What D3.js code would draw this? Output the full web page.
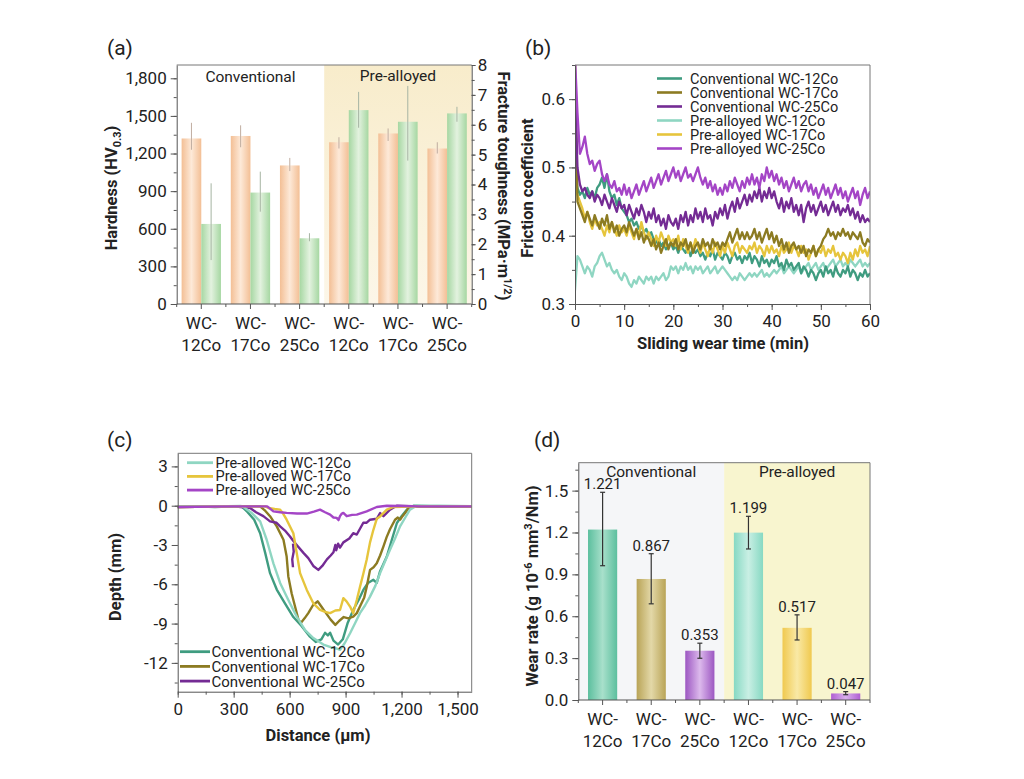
<!DOCTYPE html>
<html>
<head>
<meta charset="utf-8">
<script src="https://cdn.jsdelivr.net/npm/d3@7"></script>
<style>
  body { margin: 0; background: #fff; }
  svg text { font-family: Roboto, "Noto Sans", sans-serif; fill: #222; }
  .tick text { font-size: 17px; }
  .axis path, .axis line { stroke: #555; }
  .frame { stroke: #777; fill: none; }
  .title { font-weight: 700; font-size: 16.5px; }
  .plabel { font-size: 21px; }
</style>
</head>
<body>
<svg id="fig" width="1024" height="779"></svg>
<script>
// ---------- data ----------
const groupTop = ["WC-", "WC-", "WC-", "WC-", "WC-", "WC-"];
const groupBottom = ["12Co", "17Co", "25Co", "12Co", "17Co", "25Co"];

// (a) hardness (HV0.3) and fracture toughness (MPa m^1/2)
const hardness = [1320, 1340, 1105, 1290, 1360, 1240];
const hardnessHi = [1445, 1425, 1165, 1330, 1400, 1290];
const hardnessLo = [1230, 1250, 1060, 1240, 1300, 1200];
const toughness = [2.68, 3.73, 2.2, 6.49, 6.1, 6.38];
const toughnessHi = [4.04, 4.43, 2.37, 7.1, 7.3, 6.6];
const toughnessLo = [1.47, 3.09, 2.1, 5.9, 4.8, 6.1];

// (b) friction coefficient, one sample every 0.5 min from 0 to 60 min
const sampleStep = 0.5;
const fricConv12 = [
  0.50,0.47,0.46,0.465,0.455,0.47,0.46,0.465,0.455,0.47,
  0.475,0.485,0.47,0.49,0.465,0.455,0.46,0.445,0.455,0.44,
  0.435,0.43,0.42,0.425,0.415,0.42,0.41,0.415,0.405,0.41,
  0.40,0.405,0.395,0.39,0.395,0.385,0.39,0.38,0.385,0.39,
  0.38,0.385,0.375,0.385,0.38,0.375,0.385,0.37,0.38,0.375,
  0.38,0.37,0.375,0.365,0.375,0.37,0.38,0.365,0.375,0.37,
  0.365,0.375,0.37,0.36,0.37,0.375,0.365,0.37,0.36,0.37,
  0.365,0.375,0.36,0.37,0.365,0.355,0.37,0.36,0.365,0.355,
  0.365,0.36,0.37,0.355,0.36,0.35,0.365,0.355,0.36,0.35,
  0.355,0.36,0.345,0.355,0.35,0.34,0.35,0.345,0.335,0.345,
  0.35,0.34,0.355,0.345,0.35,0.34,0.355,0.345,0.34,0.35,
  0.345,0.355,0.34,0.35,0.345,0.335,0.345,0.34,0.35,0.34,
  0.345];
const fricConv17 = [
  0.66,0.45,0.44,0.43,0.42,0.435,0.425,0.415,0.43,0.42,
  0.41,0.425,0.415,0.43,0.41,0.42,0.405,0.415,0.40,0.41,
  0.415,0.405,0.42,0.41,0.40,0.41,0.395,0.405,0.39,0.40,
  0.395,0.385,0.395,0.38,0.39,0.375,0.385,0.395,0.38,0.39,
  0.385,0.395,0.38,0.39,0.385,0.395,0.38,0.39,0.375,0.385,
  0.39,0.38,0.395,0.385,0.39,0.38,0.395,0.385,0.39,0.38,
  0.39,0.385,0.395,0.405,0.39,0.40,0.41,0.395,0.405,0.395,
  0.405,0.395,0.40,0.41,0.395,0.405,0.39,0.40,0.41,0.395,
  0.405,0.39,0.40,0.385,0.395,0.38,0.39,0.375,0.385,0.39,
  0.38,0.385,0.375,0.385,0.37,0.38,0.375,0.385,0.37,0.38,
  0.385,0.395,0.40,0.41,0.40,0.405,0.395,0.405,0.40,0.41,
  0.40,0.405,0.395,0.405,0.40,0.395,0.405,0.39,0.385,0.395,
  0.39];
const fricConv25 = [
  0.62,0.50,0.475,0.465,0.47,0.46,0.455,0.465,0.45,0.46,
  0.455,0.445,0.46,0.45,0.44,0.455,0.445,0.435,0.45,0.44,
  0.445,0.43,0.445,0.435,0.425,0.44,0.43,0.445,0.435,0.42,
  0.435,0.425,0.44,0.42,0.43,0.415,0.425,0.41,0.43,0.42,
  0.415,0.425,0.41,0.43,0.42,0.435,0.415,0.43,0.42,0.44,
  0.425,0.435,0.42,0.44,0.425,0.43,0.415,0.435,0.425,0.44,
  0.43,0.445,0.425,0.44,0.45,0.435,0.455,0.44,0.45,0.46,
  0.445,0.46,0.45,0.465,0.455,0.47,0.45,0.465,0.455,0.47,
  0.455,0.465,0.45,0.44,0.455,0.435,0.45,0.44,0.455,0.435,
  0.445,0.43,0.445,0.42,0.44,0.45,0.435,0.445,0.43,0.44,
  0.45,0.435,0.445,0.43,0.44,0.45,0.435,0.445,0.43,0.44,
  0.435,0.445,0.43,0.44,0.425,0.435,0.42,0.43,0.42,0.425,
  0.42];
const fricPre12 = [
  0.32,0.37,0.365,0.355,0.345,0.355,0.35,0.34,0.355,0.36,
  0.37,0.375,0.365,0.355,0.36,0.35,0.345,0.35,0.34,0.335,
  0.345,0.34,0.33,0.325,0.335,0.33,0.34,0.335,0.33,0.34,
  0.335,0.34,0.33,0.34,0.335,0.34,0.345,0.335,0.34,0.355,
  0.35,0.355,0.345,0.355,0.35,0.36,0.35,0.355,0.345,0.355,
  0.35,0.355,0.345,0.35,0.355,0.345,0.35,0.355,0.345,0.35,
  0.355,0.35,0.345,0.34,0.335,0.34,0.335,0.345,0.34,0.335,
  0.34,0.345,0.34,0.345,0.34,0.345,0.35,0.34,0.345,0.34,
  0.345,0.35,0.345,0.35,0.355,0.345,0.35,0.355,0.35,0.345,
  0.35,0.355,0.345,0.35,0.355,0.36,0.35,0.355,0.36,0.35,
  0.355,0.36,0.35,0.355,0.36,0.365,0.355,0.36,0.365,0.355,
  0.36,0.355,0.365,0.36,0.355,0.36,0.365,0.355,0.36,0.355,
  0.36];
const fricPre17 = [
  0.47,0.46,0.45,0.44,0.425,0.435,0.42,0.41,0.425,0.415,
  0.42,0.41,0.40,0.415,0.405,0.42,0.41,0.40,0.415,0.405,
  0.41,0.40,0.415,0.405,0.395,0.41,0.40,0.42,0.405,0.395,
  0.405,0.395,0.385,0.40,0.39,0.405,0.395,0.385,0.40,0.39,
  0.395,0.385,0.40,0.38,0.395,0.385,0.375,0.39,0.38,0.395,
  0.385,0.375,0.39,0.38,0.37,0.385,0.375,0.39,0.38,0.37,
  0.385,0.375,0.39,0.38,0.37,0.385,0.39,0.375,0.385,0.38,
  0.375,0.385,0.38,0.39,0.375,0.385,0.38,0.37,0.385,0.375,
  0.385,0.375,0.38,0.37,0.385,0.375,0.38,0.39,0.375,0.385,
  0.38,0.37,0.385,0.375,0.38,0.365,0.375,0.385,0.37,0.38,
  0.375,0.385,0.37,0.38,0.375,0.385,0.37,0.375,0.365,0.375,
  0.37,0.36,0.375,0.365,0.38,0.37,0.385,0.375,0.38,0.37,
  0.385];
const fricPre25 = [
  0.66,0.58,0.52,0.53,0.545,0.52,0.505,0.51,0.495,0.505,
  0.51,0.49,0.48,0.49,0.475,0.47,0.48,0.465,0.47,0.46,
  0.475,0.46,0.47,0.455,0.465,0.475,0.46,0.47,0.48,0.465,
  0.475,0.485,0.47,0.48,0.49,0.475,0.485,0.495,0.48,0.49,
  0.50,0.485,0.495,0.48,0.49,0.50,0.485,0.49,0.48,0.49,
  0.50,0.485,0.475,0.485,0.47,0.48,0.465,0.475,0.46,0.47,
  0.46,0.475,0.465,0.48,0.47,0.485,0.475,0.465,0.48,0.47,
  0.485,0.475,0.49,0.475,0.485,0.47,0.49,0.48,0.50,0.485,
  0.495,0.48,0.49,0.475,0.485,0.47,0.48,0.465,0.475,0.485,
  0.47,0.48,0.465,0.475,0.48,0.465,0.475,0.46,0.47,0.455,
  0.465,0.475,0.46,0.47,0.455,0.465,0.475,0.46,0.47,0.455,
  0.465,0.45,0.46,0.47,0.455,0.465,0.445,0.46,0.47,0.455,
  0.465];

// (c) wear track depth profiles [distance um, depth]
const profConv12 = [[0,-0.08],[100,-0.05],[200,-0.1],[300,-0.05],[343,-0.05],[375,-0.5],[410,-1.07],[442,-2.1],[469,-3.6],[495,-5.15],[531,-6.4],[575,-7.45],[620,-8.5],[665,-9.2],[709,-10.0],[740,-10.4],[770,-10.2],[790,-9.7],[805,-9.9],[817,-9.7],[835,-10.3],[860,-10.6],[885,-10.2],[910,-9.0],[941,-7.96],[970,-7.2],[995,-6.43],[1020,-5.9],[1049,-5.66],[1067,-5.9],[1085,-5.0],[1121,-3.88],[1148,-2.6],[1175,-1.32],[1200,-0.8],[1228,-0.3],[1264,0],[1400,-0.05],[1576,-0.05]];
const profConv17 = [[0,-0.1],[300,-0.05],[442,-0.05],[470,-0.4],[495,-0.8],[531,-1.58],[567,-2.6],[584,-3.88],[593,-5.4],[611,-6.7],[629,-7.7],[647,-8.7],[660,-8.95],[680,-8.6],[700,-8.2],[725,-7.6],[750,-7.3],[770,-7.7],[795,-8.2],[820,-8.7],[845,-9.1],[865,-8.8],[890,-8.5],[915,-8.6],[941,-8.47],[960,-8.2],[977,-7.7],[1000,-7.0],[1013,-6.2],[1031,-4.9],[1050,-4.7],[1067,-4.4],[1085,-3.8],[1103,-3.1],[1120,-2.4],[1138,-1.8],[1165,-1.07],[1180,-0.9],[1192,-1.07],[1205,-0.8],[1219,-0.56],[1245,-0.05],[1400,-0.05],[1576,-0.05]];
const profConv25 = [[0,-0.1],[300,-0.05],[388,-0.18],[420,-0.5],[459,-0.8],[495,-1.2],[530,-1.3],[549,-1.58],[575,-1.9],[602,-2.35],[620,-2.7],[638,-3.0],[674,-3.6],[700,-4.0],[727,-4.6],[754,-4.9],[775,-4.6],[800,-4.1],[820,-3.8],[835,-3.55],[845,-3.0],[850,-3.4],[860,-2.9],[870,-3.2],[888,-2.8],[920,-2.5],[941,-2.1],[960,-2.2],[995,-1.3],[1013,-1.3],[1031,-1.07],[1067,-1.0],[1085,-0.56],[1103,-0.8],[1138,-0.3],[1174,0],[1300,-0.05],[1576,-0.05]];
const profConv25Spur = [[618,-2.9],[622,-3.5],[614,-4.1],[618,-4.7]];
const profPre12 = [[0,-0.05],[200,-0.05],[340,-0.02],[361,-0.18],[400,-0.6],[442,-1.2],[477,-2.6],[513,-4.4],[549,-5.9],[593,-7.2],[638,-8.47],[683,-9.5],[727,-10.1],[781,-10.6],[820,-10.8],[850,-10.9],[870,-11.0],[895,-10.5],[924,-9.74],[950,-9.0],[977,-8.2],[1005,-7.6],[1031,-6.94],[1060,-6.1],[1085,-5.15],[1110,-4.3],[1138,-3.37],[1165,-2.5],[1192,-1.58],[1220,-0.9],[1245,-0.3],[1281,0],[1400,0],[1576,-0.03]];
const profPre17 = [[0,-0.1],[300,-0.05],[470,-0.05],[486,-0.18],[520,-0.25],[549,-0.3],[565,-0.6],[584,-1.07],[620,-2.1],[638,-3.6],[656,-5.15],[692,-6.43],[727,-7.45],[763,-7.96],[790,-8.1],[817,-8.2],[845,-8.0],[870,-7.96],[888,-7.06],[905,-7.3],[924,-7.7],[941,-8.2],[960,-7.2],[977,-6.2],[995,-5.2],[1013,-4.13],[1031,-2.8],[1049,-1.84],[1067,-1.0],[1085,-0.82],[1121,-0.3],[1156,-0.1],[1300,-0.05],[1576,-0.05]];
const profPre25 = [[0,-0.1],[300,-0.05],[480,-0.05],[513,-0.43],[550,-0.5],[584,-0.55],[640,-0.6],[692,-0.6],[730,-0.45],[763,-0.3],[790,-0.5],[817,-0.68],[835,-0.9],[852,-0.93],[862,-1.1],[870,-0.8],[880,-0.6],[888,-0.55],[906,-0.8],[935,-0.7],[960,-0.68],[1013,-0.43],[1067,-0.1],[1121,0],[1300,-0.05],[1576,-0.05]];

// (d) wear rate (g 10^-6 mm^3/Nm)
const wearRate = [1.221, 0.867, 0.353, 1.199, 0.517, 0.047];
const wearHi = [1.488, 1.048, 0.407, 1.316, 0.61, 0.06];
const wearLo = [0.962, 0.689, 0.299, 1.082, 0.43, 0.038];

// series names / colours
const convNames = ["Conventional WC-12Co", "Conventional WC-17Co", "Conventional WC-25Co"];
const preNames = ["Pre-alloyed WC-12Co", "Pre-alloyed WC-17Co", "Pre-alloyed WC-25Co"];
const preNamesC = ["Pre-alloved WC-12Co", "Pre-alloved WC-17Co", "Pre-alloyed WC-25Co"];
const convColors = ["#3f9c80", "#8c7b22", "#742b94"];
const preColors = ["#8fd6c2", "#e6c53c", "#a445c6"];

// ---------- helpers ----------
const svg = d3.select("#fig");
const defs = svg.append("defs");

function cylGrad(id, edge, mid) {
  const g = defs.append("linearGradient").attr("id", id).attr("x1", 0).attr("x2", 1).attr("y1", 0).attr("y2", 0);
  g.append("stop").attr("offset", "0%").attr("stop-color", edge);
  g.append("stop").attr("offset", "50%").attr("stop-color", mid);
  g.append("stop").attr("offset", "100%").attr("stop-color", edge);
}

function yAxis(x, scale, majors, minors, fmt, right) {
  const mk = right ? d3.axisRight : d3.axisLeft;
  const big = right ? 4 : 6;
  svg.append("g").attr("class", "axis").attr("transform", `translate(${x},0)`)
    .call(mk(scale).tickValues(minors).tickSize(3).tickFormat(""))
    .call(g => g.select(".domain").remove());
  svg.append("g").attr("class", "axis").attr("transform", `translate(${x},0)`)
    .call(mk(scale).tickValues(majors).tickSize(big).tickSizeOuter(0).tickPadding(right ? 2 : 4).tickFormat(fmt));
}

function xAxis(y, scale, majors, minors, fmt) {
  svg.append("g").attr("class", "axis").attr("transform", `translate(0,${y})`)
    .call(d3.axisBottom(scale).tickValues(minors).tickSize(3).tickFormat(""))
    .call(g => g.select(".domain").remove());
  svg.append("g").attr("class", "axis").attr("transform", `translate(0,${y})`)
    .call(d3.axisBottom(scale).tickValues(majors).tickSize(6).tickSizeOuter(0).tickPadding(5).tickFormat(fmt));
}

function bandAxis(y, band, l, r) {
  const centers = d3.range(6).map(i => band(i) + band.bandwidth() / 2);
  const bounds = d3.range(7).map(i => l + i * (r - l) / 6);
  const g = svg.append("g").attr("class", "axis");
  g.append("line").attr("x1", l).attr("x2", r).attr("y1", y).attr("y2", y);
  g.selectAll(".mj").data(centers).join("line").attr("x1", d => d).attr("x2", d => d).attr("y1", y).attr("y2", y + 5);
  g.selectAll(".mn").data(bounds).join("line").attr("x1", d => d).attr("x2", d => d).attr("y1", y).attr("y2", y + 3);
  svg.append("g").selectAll("text").data(centers).join("text")
    .attr("x", d => d).attr("y", y + 25).attr("text-anchor", "middle").style("font-size", "17px")
    .text((d, i) => groupTop[i]);
  svg.append("g").selectAll("text").data(centers).join("text")
    .attr("x", d => d).attr("y", y + 47).attr("text-anchor", "middle").style("font-size", "17px")
    .text((d, i) => groupBottom[i]);
}

function rotTitle(x, y, angle, parts) {
  const t = svg.append("text").attr("class", "title").attr("text-anchor", "middle")
    .attr("transform", `translate(${x},${y}) rotate(${angle})`);
  parts.forEach(p => {
    const s = t.append("tspan").text(p.t);
    if (p.sup) s.attr("dy", -6).style("font-size", "11px");
    if (p.sub) s.attr("dy", 4).style("font-size", "11px");
    if (p.back) s.attr("dy", p.back);
  });
  return t;
}

const fmtPlain = d => String(d);

// ================= (a) =================
const A = { l: 176.7, r: 471.7, t: 65, b: 304 };
const xa = d3.scaleBand().domain(d3.range(6)).range([A.l, A.r]).paddingInner(0.2).paddingOuter(0.1);
const yaL = d3.scaleLinear().domain([0, 1906]).range([A.b, A.t]);
const yaR = d3.scaleLinear().domain([0, 8]).range([A.b, A.t]);

const shadeA = defs.append("linearGradient").attr("id", "shadeA").attr("x1", 0).attr("x2", 0).attr("y1", 0).attr("y2", 1);
shadeA.append("stop").attr("offset", "0%").attr("stop-color", "#f8eccb");
shadeA.append("stop").attr("offset", "100%").attr("stop-color", "#fcf6e8");
const midA = A.l + 3 * (A.r - A.l) / 6;
svg.append("rect").attr("x", midA).attr("y", A.t).attr("width", A.r - midA).attr("height", A.b - A.t).attr("fill", "url(#shadeA)");

cylGrad("gOrange", "#f3bf95", "#fde9d8");
cylGrad("gGreen", "#a6d7a2", "#e3f2df");
const half = xa.bandwidth() / 2;
svg.append("g").selectAll("rect").data(hardness).join("rect")
  .attr("x", (d, i) => xa(i)).attr("width", half)
  .attr("y", d => yaL(d)).attr("height", d => yaL(0) - yaL(d)).attr("fill", "url(#gOrange)");
svg.append("g").selectAll("rect").data(toughness).join("rect")
  .attr("x", (d, i) => xa(i) + half).attr("width", half)
  .attr("y", d => yaR(d)).attr("height", d => yaR(0) - yaR(d)).attr("fill", "url(#gGreen)");
svg.append("g").selectAll("line").data(hardness).join("line")
  .attr("x1", (d, i) => xa(i) + half / 2).attr("x2", (d, i) => xa(i) + half / 2)
  .attr("y1", (d, i) => yaL(hardnessHi[i])).attr("y2", (d, i) => yaL(hardnessLo[i]))
  .attr("stroke", "#c0ada0").attr("stroke-width", 1);
svg.append("g").selectAll("line").data(toughness).join("line")
  .attr("x1", (d, i) => xa(i) + half * 1.5).attr("x2", (d, i) => xa(i) + half * 1.5)
  .attr("y1", (d, i) => yaR(toughnessHi[i])).attr("y2", (d, i) => yaR(toughnessLo[i]))
  .attr("stroke", "#a6b4a3").attr("stroke-width", 1);

svg.append("line").attr("class", "frame").attr("x1", A.l).attr("x2", A.r).attr("y1", A.t).attr("y2", A.t);
yAxis(A.l, yaL, d3.range(0, 1801, 300), d3.range(0, 1901, 150), d3.format(","), false);
yAxis(A.r, yaR, d3.range(0, 9, 1), d3.range(0, 8.01, 0.5), fmtPlain, true);
bandAxis(A.b, xa, A.l, A.r);

svg.append("text").attr("x", (A.l + midA) / 2).attr("y", 82).attr("text-anchor", "middle").style("font-size", "15.5px").text("Conventional");
svg.append("text").attr("x", (midA + A.r) / 2).attr("y", 81).attr("text-anchor", "middle").style("font-size", "15.5px").text("Pre-alloyed");
rotTitle(117, 188, -90, [{ t: "Hardness (HV" }, { t: "0.3", sub: true }, { t: ")", back: -4 }]);
rotTitle(498, 186, 90, [{ t: "Fracture toughness (MPa\u00b7m" }, { t: "1/2", sup: true }, { t: ")", back: 6 }]);
svg.append("text").attr("class", "plabel").attr("x", 107).attr("y", 55).text("(a)");

// ================= (b) =================
const B = { l: 575, r: 870, t: 65, b: 304 };
const xb = d3.scaleLinear().domain([0, 60]).range([B.l, B.r]);
const yb = d3.scaleLinear().domain([0.3, 0.65]).range([B.b, B.t]);
defs.append("clipPath").attr("id", "clipB").append("rect")
  .attr("x", B.l).attr("y", B.t).attr("width", B.r - B.l).attr("height", B.b - B.t);
const lineB = d3.line().x((d, i) => xb(i * sampleStep)).y(d => yb(d));
const fricSeries = [
  { v: fricPre12, c: preColors[0] },
  { v: fricConv12, c: convColors[0] },
  { v: fricPre17, c: preColors[1] },
  { v: fricConv17, c: convColors[1] },
  { v: fricConv25, c: convColors[2] },
  { v: fricPre25, c: preColors[2] }
];
svg.append("g").attr("clip-path", "url(#clipB)").selectAll("path").data(fricSeries).join("path")
  .attr("d", d => lineB(d.v)).attr("fill", "none").attr("stroke", d => d.c)
  .attr("stroke-width", 2.3).attr("stroke-linejoin", "round");
svg.append("path").attr("class", "frame").attr("d", `M${B.l},${B.t}H${B.r}V${B.b}`);
yAxis(B.l, yb, [0.3, 0.4, 0.5, 0.6], d3.range(0.3, 0.651, 0.05), d3.format(".1f"), false);
xAxis(B.b, xb, d3.range(0, 61, 10), d3.range(0, 61, 5), fmtPlain);
const legB = svg.append("g");
const legBNames = convNames.concat(preNames);
const legBColors = convColors.concat(preColors);
legBNames.forEach((n, i) => {
  const y = 78.5 + i * 14;
  legB.append("line").attr("x1", 657).attr("x2", 682).attr("y1", y).attr("y2", y)
    .attr("stroke", legBColors[i]).attr("stroke-width", 2.6);
  legB.append("text").attr("x", 690).attr("y", y + 5).style("font-size", "14.5px").text(n);
});
rotTitle(533, 188, -90, [{ t: "Friction coefficient" }]);
svg.append("text").attr("class", "title").attr("x", 723).attr("y", 349).attr("text-anchor", "middle").text("Sliding wear time (min)");
svg.append("text").attr("class", "plabel").attr("x", 525).attr("y", 55).text("(b)");

// ================= (c) =================
const C = { l: 177.7, r: 471.7, t: 453.3, b: 691.7 };
const xc = d3.scaleLinear().domain([0, 1576]).range([C.l, C.r]);
const yc = d3.scaleLinear().domain([-14.2, 4]).range([C.b, C.t]);
const lineC = d3.line().x(d => xc(d[0])).y(d => yc(d[1]));
const profSeries = [
  { v: profConv12, c: convColors[0] },
  { v: profConv17, c: convColors[1] },
  { v: profConv25, c: convColors[2] },
  { v: profConv25Spur, c: convColors[2] },
  { v: profPre12, c: preColors[0] },
  { v: profPre17, c: preColors[1] },
  { v: profPre25, c: preColors[2] }
];
svg.append("g").selectAll("path").data(profSeries).join("path")
  .attr("d", d => lineC(d.v)).attr("fill", "none").attr("stroke", d => d.c)
  .attr("stroke-width", 2.4).attr("stroke-linejoin", "round");
svg.append("path").attr("class", "frame").attr("d", `M${C.l},${C.t}H${C.r}V${C.b}`);
yAxis(C.l, yc, [3, 0, -3, -6, -9, -12], d3.range(-13.5, 3.1, 1.5), fmtPlain, false);
xAxis(C.b, xc, d3.range(0, 1501, 300), d3.range(0, 1576, 150), d3.format(","));
preNamesC.forEach((n, i) => {
  const y = 462.7 + i * 13.7;
  svg.append("line").attr("x1", 187).attr("x2", 213).attr("y1", y).attr("y2", y).attr("stroke", preColors[i]).attr("stroke-width", 2.8);
  svg.append("text").attr("x", 215.5).attr("y", y + 5).style("font-size", "14.5px").text(n);
});
convNames.forEach((n, i) => {
  const y = 651.7 + i * 14.7;
  svg.append("line").attr("x1", 180).attr("x2", 210).attr("y1", y).attr("y2", y).attr("stroke", convColors[i]).attr("stroke-width", 2.8);
  svg.append("text").attr("x", 211.5).attr("y", y + 5.5).style("font-size", "15px").text(n);
});
rotTitle(121, 577, -90, [{ t: "Depth (mm)" }]);
svg.append("text").attr("class", "title").attr("x", 318).attr("y", 741).attr("text-anchor", "middle").text("Distance (\u00b5m)");
svg.append("text").attr("class", "plabel").attr("x", 107).attr("y", 447).text("(c)");

// ================= (d) =================
const D = { l: 578.3, r: 870, t: 462.7, b: 700 };
const xd = d3.scaleBand().domain(d3.range(6)).range([D.l, D.r]).paddingInner(0.4).paddingOuter(0.2);
const yd = d3.scaleLinear().domain([0, 1.7]).range([D.b, D.t]);
const midD = D.l + 3 * (D.r - D.l) / 6;
svg.append("rect").attr("x", D.l).attr("y", D.t).attr("width", midD - D.l).attr("height", D.b - D.t).attr("fill", "#f5f6f8");
svg.append("rect").attr("x", midD).attr("y", D.t).attr("width", D.r - midD).attr("height", D.b - D.t).attr("fill", "#f8f5cf");

const wearEdge = ["#5cbf9e", "#b9a457", "#9c57c2", "#87d9c3", "#f0c94f", "#b05ed2"];
const wearMid = ["#a8e0cb", "#e3d8a8", "#dcb9ec", "#c9efe4", "#f9e9a6", "#d9b0ec"];
wearEdge.forEach((c, i) => cylGrad("gW" + i, c, wearMid[i]));
svg.append("g").selectAll("rect").data(wearRate).join("rect")
  .attr("x", (d, i) => xd(i)).attr("width", xd.bandwidth())
  .attr("y", d => yd(d)).attr("height", d => yd(0) - yd(d)).attr("fill", (d, i) => `url(#gW${i})`);
const errD = svg.append("g").attr("stroke", "#333").attr("stroke-width", 1.2);
wearRate.forEach((d, i) => {
  const cx = xd(i) + xd.bandwidth() / 2;
  errD.append("line").attr("x1", cx).attr("x2", cx).attr("y1", yd(wearHi[i])).attr("y2", yd(wearLo[i]));
  errD.append("line").attr("x1", cx - 2.5).attr("x2", cx + 2.5).attr("y1", yd(wearHi[i])).attr("y2", yd(wearHi[i]));
  errD.append("line").attr("x1", cx - 2.5).attr("x2", cx + 2.5).attr("y1", yd(wearLo[i])).attr("y2", yd(wearLo[i]));
});
svg.append("g").selectAll("text").data(wearRate).join("text")
  .attr("x", (d, i) => xd(i) + xd.bandwidth() / 2).attr("y", (d, i) => yd(wearHi[i]) - 3)
  .attr("text-anchor", "middle").style("font-size", "15px").text(d => d3.format(".3f")(d));
svg.append("path").attr("class", "frame").attr("d", `M${D.l},${D.t}H${D.r}V${D.b}`);
yAxis(D.l, yd, d3.range(0, 1.51, 0.3), d3.range(0, 1.66, 0.15), d3.format(".1f"), false);
bandAxis(D.b, xd, D.l, D.r);
svg.append("text").attr("x", (D.l + midD) / 2).attr("y", 477).attr("text-anchor", "middle").style("font-size", "15.5px").text("Conventional");
svg.append("text").attr("x", (midD + D.r) / 2).attr("y", 477).attr("text-anchor", "middle").style("font-size", "15.5px").text("Pre-alloyed");
rotTitle(538, 586, -90, [{ t: "Wear rate (g 10" }, { t: "-6", sup: true }, { t: " mm", back: 6 }, { t: "3", sup: true }, { t: "/Nm)", back: 6 }]);
svg.append("text").attr("class", "plabel").attr("x", 534).attr("y", 447).text("(d)");
</script>
</body>
</html>
